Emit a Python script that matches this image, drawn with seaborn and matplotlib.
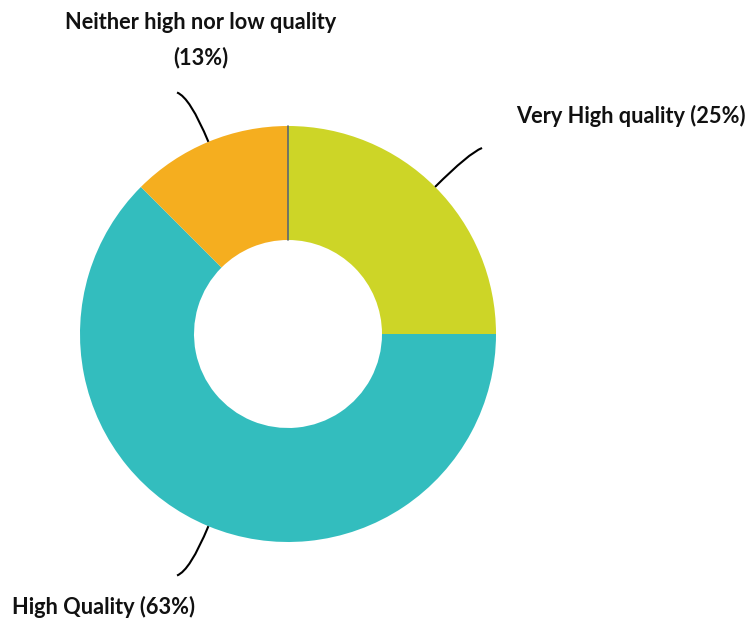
import numpy as np
import matplotlib
matplotlib.use("Agg")
import matplotlib.pyplot as plt
import seaborn as sns
from matplotlib.path import Path
from matplotlib.patches import PathPatch

# ---- data ----
categories = ["Very High quality", "High Quality", "Neither high nor low quality"]
shares = [25.0, 62.5, 12.5]
label_texts = ["Very High quality (25%)", "High Quality (63%)",
               "Neither high nor low quality\n(13%)"]
colors = ["#CDD527", "#33BDBE", "#F5AE1F"]

sns.set_theme(style="white")
plt.rcParams['font.family'] = ['Lato', 'DejaVu Sans']

fig = plt.figure(figsize=(7.5, 6.18), dpi=100)
ax = fig.add_axes([0, 0, 1, 1])

cx, cy = 288, 284
R, r_in = 208, 94
wedges, _ = ax.pie(shares, colors=colors, startangle=90, counterclock=False,
                   radius=R, center=(cx, cy),
                   wedgeprops=dict(width=R - r_in, linewidth=0),
                   frame=True)
ax.set_xlim(0, 750)
ax.set_ylim(0, 618)
ax.set_aspect('equal')
ax.axis('off')

# thin seam line at the start angle
ax.plot([cx, cx], [cy + r_in, cy + R], color="#5B6770", lw=1.2, zorder=5)

# label placements: (x, y, ha)
label_pos = [(516, 502, 'left'), (12, 11, 'left'), (201, 578, 'center')]

for w, txt, (tx, ty, ha) in zip(wedges, label_texts, label_pos):
    mid = np.deg2rad((w.theta1 + w.theta2) / 2)
    d = np.array([np.cos(mid), np.sin(mid)])
    p0 = np.array([cx, cy]) + R * d
    ctrl = np.array([cx, cy]) + (R + 48) * d
    end = ctrl + np.array([13 * np.sign(d[0]), 5 * np.sign(d[1])])
    path = Path([p0, ctrl, end], [Path.MOVETO, Path.CURVE3, Path.CURVE3])
    ax.add_patch(PathPatch(path, fc='none', ec='black', lw=1.5, zorder=6))
    ax.text(tx, ty, txt, ha=ha, va='center', fontsize=15.7, fontweight='bold',
            color='#111111', multialignment='center', linespacing=1.75)

fig.savefig("out.png", dpi=100)
